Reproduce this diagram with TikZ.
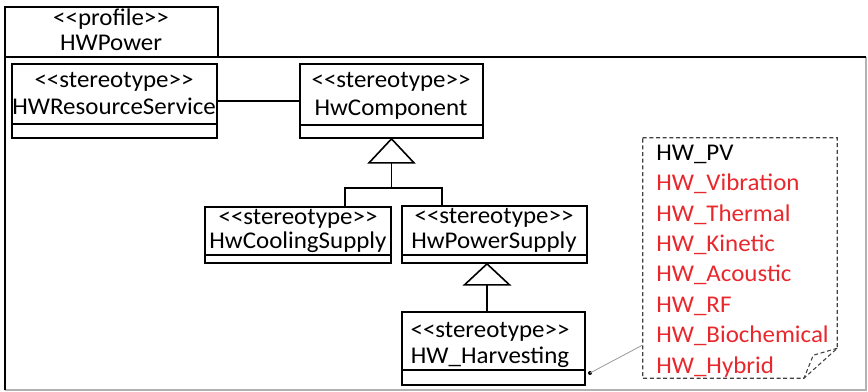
\documentclass[tikz,border=0pt]{standalone}
\usepackage{fontspec}
\newfontfamily\umlfont{Carlito}[FakeStretch=1.04]
\usetikzlibrary{fit}
\definecolor{notered}{RGB}{232,40,45}

\begin{document}
\begin{tikzpicture}[x=0.75pt,y=-0.75pt,
  box/.style={draw,line width=1.3pt,inner sep=0pt},
  sep/.style={line width=1.3pt},
  gen/.style={line width=1.2pt},
  txt/.style={font=\umlfont\fontsize{18}{21}\selectfont,inner sep=0pt,text height=12.5pt,text depth=3pt},
  notebox/.style={densely dashed,line width=0.8pt,black!75}]
  \useasboundingbox (0,0) rectangle (868,392);
  % profile frame
  \draw[gray!60,line width=1.3pt] (866,57) -- (866,390) -- (5,390);
  \draw[line width=1.3pt] (5,390) -- (5,57) -- (866,57);
  \node[box,fit={(5,7)(218,57)}] (prof) {};
  \node[txt] (prof-st) at (111,19) {<{}<profile>{}>};
  \node[txt] (prof-nm) at (111,44) {HWPower};
  % classes
  \node[box,fit={(12,64)(217,138)}] (res) {};
  \draw[sep] ([yshift=11pt]res.south west) -- ([yshift=11pt]res.south east);
  \node[txt] (res-st) at (114,81) {<{}<stereotype>{}>};
  \node[txt] (res-nm) at (114,108) {HWResourceService};
  \node[box,fit={(300,64)(483,138)}] (comp) {};
  \draw[sep] ([yshift=10.5pt]comp.south west) -- ([yshift=10.5pt]comp.south east);
  \node[txt] (comp-st) at (391,81) {<{}<stereotype>{}>};
  \node[txt] (comp-nm) at (391,109) {HwComponent};
  \node[box,fit={(205,207)(391,263)}] (cool) {};
  \draw[sep] ([yshift=6.75pt]cool.south west) -- ([yshift=6.75pt]cool.south east);
  \node[txt] (cool-st) at (298,218) {<{}<stereotype>{}>};
  \node[txt] (cool-nm) at (298,242) {HwCoolingSupply};
  \node[box,fit={(402,206)(587,263)}] (psup) {};
  \draw[sep] ([yshift=6.75pt]psup.south west) -- ([yshift=6.75pt]psup.south east);
  \node[txt] (psup-st) at (494,217) {<{}<stereotype>{}>};
  \node[txt] (psup-nm) at (494,242) {HwPowerSupply};
  \node[box,fit={(402,312)(585,385)}] (harv) {};
  \draw[sep] ([yshift=12pt]harv.south west) -- ([yshift=12pt]harv.south east);
  \node[txt] (harv-st) at (490,331) {<{}<stereotype>{}>};
  \node[txt] (harv-nm) at (490,357) {HW\_Harvesting};
  % association
  \draw[sep] (res.east) -- (comp.west);
  % generalizations
  \coordinate (j1) at (391.5,188);
  \coordinate (c1) at (345,188);
  \coordinate (c2) at (442,188);
  \draw[gen] (comp.south) -- ++(-22.5,24) -- ++(45,0) -- cycle;
  \draw[gen] ([yshift=-18pt]comp.south) -- (j1);
  \draw[gen] (c1 |- cool.north) -- (c1) -- (c2) -- (c2 |- psup.north);
  \coordinate (g2) at (487,284);
  \draw[gen] (g2 |- psup.south) -- ++(-22.5,21) -- ++(45,0) -- cycle;
  \draw[gen] (g2) -- (g2 |- harv.north);
  % note
  \node[fit={(643,138)(837,378)},inner sep=0pt] (note) {};
  \draw[notebox] (note.north west) -- (note.north east) -- ([yshift=22.5pt]note.south east)
    -- ([xshift=-25pt]note.south east) -- (note.south west) -- cycle;
  \draw[notebox] ([yshift=22.5pt]note.south east) -- ++(-24,7) -- ([xshift=-25pt]note.south east);
  \foreach \t/\c [count=\i from 0] in {HW\_PV/black,HW\_Vibration/notered,HW\_Thermal/notered,
      HW\_Kinetic/notered,HW\_Acoustic/notered,HW\_RF/notered,HW\_Biochemical/notered,HW\_Hybrid/notered}
    \node[txt,anchor=west,text=\c] (item\i) at (656,{154+30.4*\i}) {\t};
  \coordinate (anch) at (590,373);
  \fill (anch) circle (2);
  \draw[gray!80,line width=0.6pt] (anch) -- (note.west |- 0,345);
\end{tikzpicture}
\end{document}
